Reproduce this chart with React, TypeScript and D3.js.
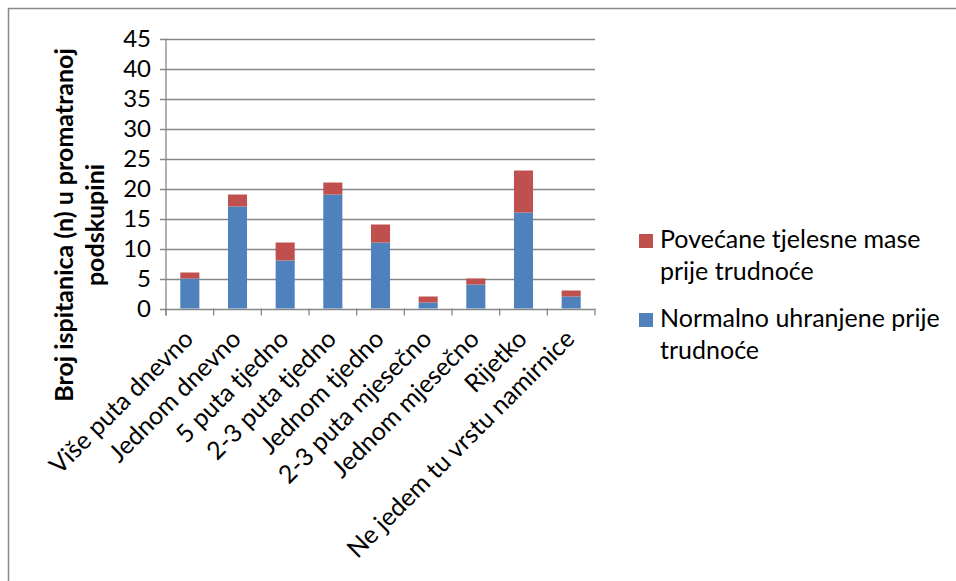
import React from "react";
import * as d3 from "d3";

const categories = [
  "Više puta dnevno",
  "Jednom dnevno",
  "5 puta tjedno",
  "2-3 puta tjedno",
  "Jednom tjedno",
  "2-3 puta mjesečno",
  "Jednom mjesečno",
  "Rijetko",
  "Ne jedem tu vrstu namirnice",
];
const normalno = [5, 17, 8, 19, 11, 1, 4, 16, 2];
const povecane = [1, 2, 3, 2, 3, 1, 1, 7, 1];
const yTicks = [0, 5, 10, 15, 20, 25, 30, 35, 40, 45];
const seriesNames = ["Normalno uhranjene prije trudnoće", "Povećane tjelesne mase prije trudnoće"];
const legendLines = [
  ["Povećane tjelesne mase", "prije trudnoće"],
  ["Normalno uhranjene prije", "trudnoće"],
];
const colors = ["#4F81BD", "#C0504D"];

const W = 956;
const H = 581;
const left = 166;
const right = 595;
const top = 38.5;
const bottom = 308.5;
const FONT = "Lato, 'Open Sans', sans-serif";
const FS = 25;

export default function App() {
  const x = d3.scaleBand<string>().domain(categories).range([left, right]).paddingInner(0.6).paddingOuter(0.3);
  const xb = d3.scaleBand<string>().domain(categories).range([left, right]);
  const y = d3.scaleLinear().domain([0, 45]).range([bottom, top]);
  const rows = categories.map((c, i) => ({ cat: c, a: normalno[i], b: povecane[i] }));
  const stack = d3.stack<any>().keys(["a", "b"])(rows);
  const boundaries = d3.range(categories.length + 1).map((i) => left + i * xb.step());
  const gray = "#868686";

  return (
    <svg width={W} height={H} style={{ position: "absolute", left: 0, top: 0, display: "block" }}>
      <rect x={0} y={0} width={W} height={H} fill="#fff" />
      <rect x={8.5} y={8.5} width={980} height={620} fill="none" stroke="#898989" strokeWidth={1.5} />
      {yTicks.map((t) => (
        <g key={t}>
          <line x1={left - 6} x2={right} y1={Math.round(y(t)) + 0.5} y2={Math.round(y(t)) + 0.5} stroke={gray} strokeWidth={1.3} />
          <text x={151} y={y(t)} dy="0.35em" textAnchor="end" fontFamily={FONT} fontSize={24} fill="#000">
            {t}
          </text>
        </g>
      ))}
      <line x1={left} x2={left} y1={top} y2={bottom + 7} stroke={gray} strokeWidth={1.3} />
      {boundaries.map((b, i) => (
        <line key={i} x1={b} x2={b} y1={bottom} y2={bottom + 7} stroke={gray} strokeWidth={1.3} />
      ))}
      {stack.map((s, si) =>
        s.map((d: any, i: number) => (
          <rect
            key={si + "-" + i}
            x={x(categories[i])}
            width={x.bandwidth()}
            y={y(d[1])}
            height={y(d[0]) - y(d[1])}
            fill={colors[si]}
          >
            <title>{seriesNames[si]}</title>
          </rect>
        ))
      )}
      {categories.map((c) => {
        const cx = (xb(c) as number) + xb.bandwidth() / 2;
        return (
          <text
            key={c}
            transform={`translate(${cx + 5},${bottom + 32}) rotate(-45)`}
            textAnchor="end"
            fontFamily={FONT}
            fontSize={FS}
            fill="#000"
          >
            {c}
          </text>
        );
      })}
      <g transform="translate(73,225) rotate(-90)">
        <text textAnchor="middle" fontFamily={FONT} fontSize={FS} fontWeight="bold" fill="#000">
          Broj ispitanica (n) u promatranoj
        </text>
        <text y={31} textAnchor="middle" fontFamily={FONT} fontSize={FS} fontWeight="bold" fill="#000">
          podskupini
        </text>
      </g>
      {legendLines.map((lines, li) => {
        const baseY = li === 0 ? 248 : 327;
        return (
          <g key={li}>
            <rect x={639} y={baseY - 14} width={14} height={14} fill={colors[1 - li]} />
            {lines.map((t, k) => (
              <text key={k} x={660} y={baseY + k * 31.5} fontFamily={FONT} fontSize={FS} fill="#000">
                {t}
              </text>
            ))}
          </g>
        );
      })}
    </svg>
  );
}
